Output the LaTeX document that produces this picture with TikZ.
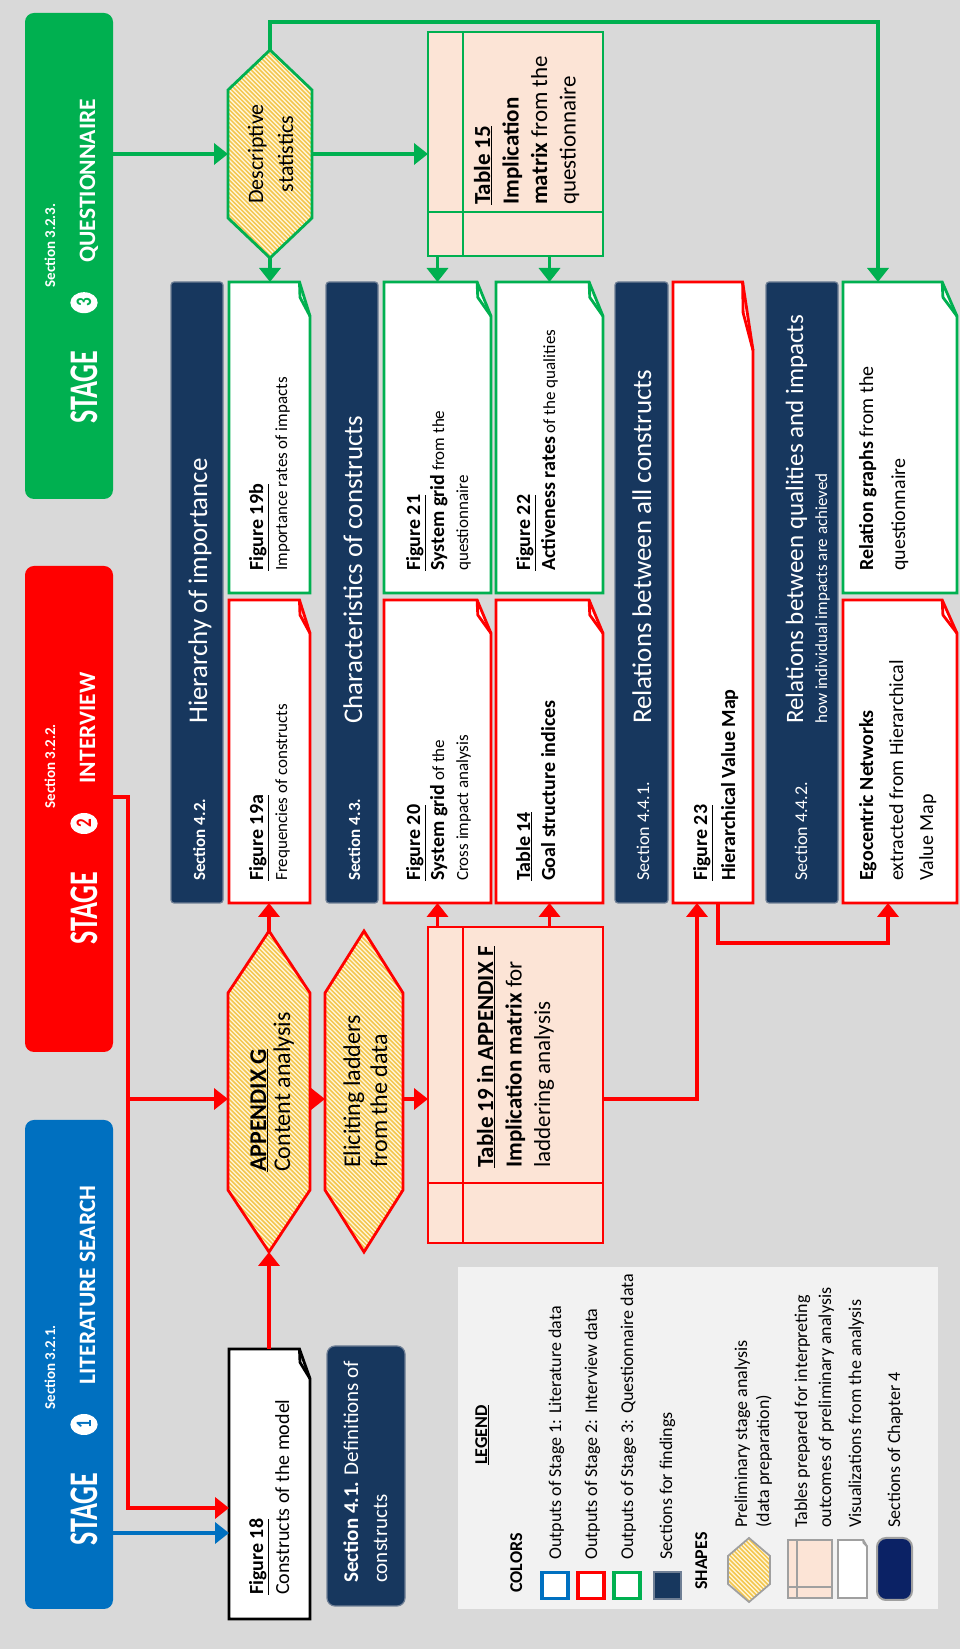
\documentclass[tikz,border=0pt]{standalone}
\usepackage{fontspec}
\setmainfont{Carlito}
\usetikzlibrary{arrows.meta,calc}

\definecolor{bg}{HTML}{D9D9D9}
\definecolor{sgreen}{HTML}{00B050}
\definecolor{sred}{HTML}{FF0000}
\definecolor{sblue}{HTML}{0070C0}
\definecolor{navy}{HTML}{17375E}
\definecolor{navyb}{HTML}{6F7F95}
\definecolor{darknavy}{HTML}{0B2265}
\definecolor{peach}{HTML}{FCE4D6}
\definecolor{hexbg}{HTML}{FFF6DA}
\definecolor{hexln}{HTML}{F3C64E}
\definecolor{legbg}{HTML}{F2F2F2}
\definecolor{legline}{HTML}{A0A0A0}

\newcommand\fsz[2]{\fontsize{#1}{#2}\selectfont}
\newcommand\lstack[1]{\vtop{\halign{##\hfil\cr#1\crcr}}}
\newcommand\cstack[1]{\vtop{\halign{\hfil##\hfil\cr#1\crcr}}}

\tikzset{
  shapelw/.style={line width=2.8pt},
  link/.style={line width=3.6pt},
  tip/.style={-{Triangle[width=21pt,length=14pt]}},
  stagebox/.style={rounded corners=9pt, inner sep=0pt, outer sep=0pt},
  band/.style={fill=navy, draw=navyb, line width=1.2pt, rounded corners=3pt, inner sep=0pt, outer sep=0pt},
  stagew/.style={anchor=base west, inner sep=0pt, text=white, font=\fsz{28}{28}\bfseries, yscale=1.45},
  stagenum/.style={circle, fill=white, inner sep=0pt, minimum size=21pt, font=\fsz{17}{17}\bfseries, yscale=1.3},
  stagesec/.style={anchor=base west, inner sep=0pt, text=white, font=\fsz{15}{15}\bfseries},
  stagettl/.style={anchor=base west, inner sep=0pt, text=white, font=\fsz{23.5}{23.5}\bfseries},
  txt/.style={anchor=base west, inner sep=0pt},
  ctxt/.style={anchor=base, inner sep=0pt},
}

% document shape with a folded lower right corner: name, colour, x1, y1, x2, y2
\newcommand\docbox[6]{%
  \node[inner sep=0pt,outer sep=0pt,minimum width={(#5-#3)*1pt},minimum height={(#6-#4)*1pt}] (#1) at ({(#3+#5)/2},{-(#4+#6)/2}) {};
  \pgfmathsetmacro\fw{0.11*(#5-#3)}%
  \pgfmathsetmacro\fh{0.13*(#6-#4)}%
  \filldraw[shapelw,fill=white,draw=#2,line join=miter] (#3,-#4) -- (#5,-#4) -- (#5,{\fh-#6}) -- ({#5-\fw},-#6) -- (#3,-#6) -- cycle;
  \draw[shapelw,draw=#2,line join=round] (#5,{\fh-#6}) -- ({#5-0.45*\fw},{0.95*\fh-#6}) -- ({#5-\fw},-#6);
}

% hatched hexagon: name, colour, x1, y1, x2, y2, tip length
\newcommand\hexbox[7]{%
  \node[inner sep=0pt,outer sep=0pt,minimum width={(#5-#3)*1pt},minimum height={(#6-#4)*1pt}] (#1) at ({(#3+#5)/2},{-(#4+#6)/2}) {};
  \pgfmathsetmacro\hm{-(#4+#6)/2}%
  \pgfmathsetmacro\hh{#6-#4}%
  \pgfmathtruncatemacro\hn{(#5-#3+#6-#4)/4.4+2}%
  \begin{scope}
    \clip (#3,\hm) -- ({#3+#7},-#4) -- ({#5-#7},-#4) -- (#5,\hm) -- ({#5-#7},-#6) -- ({#3+#7},-#6) -- cycle;
    \fill[hexbg] (#3,-#4) rectangle (#5,-#6);
    \foreach \k in {0,...,\hn} \draw[hexln,line width=1.5pt] ({#3-\hh+\k*4.4},-#6) -- ++(\hh,\hh);
  \end{scope}
  \draw[shapelw,draw=#2,line join=miter] (#3,\hm) -- ({#3+#7},-#4) -- ({#5-#7},-#4) -- (#5,\hm) -- ({#5-#7},-#6) -- ({#3+#7},-#6) -- cycle;
}

% table shape: name, colour, x1, y1, x2, y2, header line y, column line x
\newcommand\tablebox[8]{%
  \node[inner sep=0pt,outer sep=0pt,minimum width={(#5-#3)*1pt},minimum height={(#6-#4)*1pt}] (#1) at ({(#3+#5)/2},{-(#4+#6)/2}) {};
  \filldraw[shapelw,fill=peach,draw=#2] (#3,-#4) rectangle (#5,-#6);
  \draw[shapelw,draw=#2] (#3,-#7) -- (#5,-#7) (#8,-#4) -- (#8,-#6);
}

\begin{document}
\begin{tikzpicture}[x=1pt,y=1pt]
\useasboundingbox (0,0) rectangle (960,1649);
\fill[bg] (0,0) rectangle (960,1649);

\begin{scope}[rotate=90, transform shape]

% ---------- stage headers ----------
\node[stagebox, fill=sblue, minimum width=489pt, minimum height=88pt] (stage1) at (284.5,-69) {};
\node[stagebox, fill=sred, minimum width=486pt, minimum height=88pt] (stage2) at (840,-69) {};
\node[stagebox, fill=sgreen, minimum width=486pt, minimum height=88pt] (stage3) at (1393,-69) {};

\node[stagew] (s1w) at (103.5,-97) {STAGE};
\node[stagenum, text=sblue] (s1n) at (224.5,-84) {1};
\node[stagesec] (s1s) at (239.5,-55) {Section 3.2.1.};
\node[stagettl] (s1t) at (264.5,-95) {LITERATURE SEARCH};

\node[stagew] (s2w) at (704.5,-97) {STAGE};
\node[stagenum, text=sred] (s2n) at (825.5,-84) {2};
\node[stagesec] (s2s) at (840.5,-55) {Section 3.2.2.};
\node[stagettl] (s2t) at (865.5,-95) {INTERVIEW};

\node[stagew] (s3w) at (1225.3,-97) {STAGE};
\node[stagenum, text=sgreen] (s3n) at (1346.3,-84) {3};
\node[stagesec] (s3s) at (1361.3,-55) {Section 3.2.3.};
\node[stagettl] (s3t) at (1386.3,-95) {QUESTIONNAIRE};

% ---------- sections of chapter 4 ----------
\node[band, minimum width=621pt, minimum height=52pt] (sec42) at (1056.5,-197) {};
\node[band, minimum width=621pt, minimum height=52pt] (sec43) at (1056.5,-352) {};
\node[band, minimum width=621pt, minimum height=53pt] (sec441) at (1056.5,-641.5) {};
\node[band, minimum width=621pt, minimum height=72pt] (sec442) at (1056.5,-802) {};
\node[band, rounded corners=8pt, minimum width=260pt, minimum height=78pt] (sec41) at (173,-366) {};

\node[txt, text=white, font=\fsz{17}{17}\bfseries] (l42a) at (768,-205) {Section 4.2.};
\node[txt, text=white, font=\fsz{27}{27}] (l42b) at (925,-207) {Hierarchy of importance};
\node[txt, text=white, font=\fsz{17}{17}\bfseries] (l43a) at (768,-360) {Section 4.3.};
\node[txt, text=white, font=\fsz{27}{27}] (l43b) at (925,-362) {Characteristics of constructs};
\node[txt, text=white, font=\fsz{18}{18}] (l441a) at (768,-649) {Section 4.4.1.};
\node[txt, text=white, font=\fsz{27}{27}] (l441b) at (925,-651) {Relations between all constructs};
\node[txt, text=white, font=\fsz{18}{18}] (l442a) at (768,-807) {Section 4.4.2.};
\node[txt, text=white, font=\fsz{25}{25}] (l442b) at (925,-803) {Relations between qualities and impacts};
\node[txt, text=white, font=\fsz{17}{17}] (l442c) at (925,-827) {how individual impacts are achieved};
\node[txt, text=white, font=\fsz{21}{29}] (l41) at (66,-358) {\lstack{{\bfseries Section 4.1.} Definitions of\cr constructs}};

% ---------- preliminary analysis ----------
\hexbox{desc}{sgreen}{1391}{228}{1599}{312}{40}
\hexbox{appg}{sred}{397}{228}{718}{310}{62}
\hexbox{elic}{sred}{397}{325}{718}{403}{62}

\node[ctxt, font=\fsz{22}{30}] (tdesc) at (1495,-263) {\cstack{Descriptive\cr statistics}};
\node[txt, font=\fsz{24}{24}] (tappg) at (477,-266) {\lstack{\bfseries\underline{APPENDIX G}\cr Content analysis}};
\node[txt, font=\fsz{24}{27}] (telic) at (481,-360) {\lstack{Eliciting ladders\cr from the data}};

% ---------- tables ----------
\tablebox{t19}{sred}{406}{428}{722}{603}{463}{466}
\tablebox{t15}{sgreen}{1393}{428}{1617}{603}{463}{1437}

\node[txt, font=\fsz{23}{28.5}] (tt19) at (481,-493) {\lstack{\bfseries\underline{Table 19 in APPENDIX F}\cr {\bfseries Implication matrix} for\cr laddering analysis}};
\node[txt, font=\fsz{23}{28.5}] (tt15) at (1444,-490) {\lstack{\bfseries\underline{Table 15}\cr \bfseries Implication\cr {\bfseries matrix} from the\cr questionnaire}};

% ---------- visualisations ----------
\docbox{f18}{black}{30}{229}{300}{310}
\docbox{f19a}{sred}{746}{229}{1049}{310}
\docbox{f19b}{sgreen}{1056}{229}{1367}{310}
\docbox{f20}{sred}{746}{384}{1049}{491}
\docbox{f21}{sgreen}{1056}{384}{1367}{491}
\docbox{t14}{sred}{746}{496}{1049}{603}
\docbox{f22}{sgreen}{1056}{496}{1367}{603}
\docbox{f23}{sred}{746}{673}{1367}{753}
\docbox{ego}{sred}{746}{843}{1049}{957}
\docbox{rel}{sgreen}{1056}{843}{1367}{957}

\node[txt, font=\fsz{20}{26}] (tf18) at (54,-263) {\lstack{\bfseries\underline{Figure 18}\cr Constructs of the model}};
\node[txt, font=\fsz{17}{24}] (tf19a) at (768,-263) {\lstack{\fsz{20}{24}\bfseries\underline{Figure 19a}\cr Frequencies of constructs}};
\node[txt, font=\fsz{17}{24}] (tf19b) at (1078,-263) {\lstack{\fsz{20}{24}\bfseries\underline{Figure 19b}\cr Importance rates of impacts}};
\node[txt, font=\fsz{17}{24}] (tf20) at (768,-420) {\lstack{\fsz{20}{24}\bfseries\underline{Figure 20}\cr {\fsz{20}{24}\bfseries System grid} of the\cr Cross impact analysis}};
\node[txt, font=\fsz{17}{24}] (tf21) at (1078,-420) {\lstack{\fsz{20}{24}\bfseries\underline{Figure 21}\cr {\fsz{20}{24}\bfseries System grid} from the\cr questionnaire}};
\node[txt, font=\fsz{17}{25}] (tt14) at (768,-530) {\lstack{\fsz{20}{24}\bfseries\underline{Table 14}\cr \fsz{20}{24}\bfseries Goal structure indices}};
\node[txt, font=\fsz{17}{25}] (tf22) at (1078,-530) {\lstack{\fsz{20}{24}\bfseries\underline{Figure 22}\cr {\fsz{20}{24}\bfseries Activeness rates} of the qualities}};
\node[txt, font=\fsz{20}{28}] (tf23) at (768,-707) {\lstack{\bfseries\underline{Figure 23}\cr \bfseries Hierarchical Value Map}};
\node[txt, font=\fsz{20}{30}] (tego) at (768,-873) {\lstack{\bfseries Egocentric Networks\cr extracted from Hierarchical\cr Value Map}};
\node[txt, font=\fsz{20}{32}] (trel) at (1078,-873) {\lstack{{\bfseries Relation graphs} from the\cr questionnaire}};

% ---------- connectors ----------
% questionnaire stage
\draw[link,tip,sgreen] (stage3.south -| desc.north) -- (desc.north);
\draw[link,tip,sgreen] (desc.south) -- (desc.south |- t15.north);
\draw[link,tip,sgreen] (desc.west) -- (desc.west -| f19b.east);
\coordinate (gturn) at (1627,-878);
\draw[link,tip,sgreen,line join=miter] (desc.east) -| (gturn) -- (gturn -| rel.east);
\draw[link,tip,sgreen] (t15.west |- f21.east) -- (f21.east);
\draw[link,tip,sgreen] (t15.west |- f22.east) -- (f22.east);

% interview stage
\coordinate (rA) at (852,-128);
\coordinate (rL) at (141,-128);
\coordinate (rM) at (550,-128);
\draw[link,tip,sred,line join=miter] (stage2.south -| rA) -- (rA) -- (rL) -- (rL |- f18.north);
\draw[link,tip,sred] (rM) -- (rM |- appg.north);
\draw[link,tip,sred] (appg.south -| rM) -- (rM |- elic.north);
\draw[link,tip,sred] (elic.south -| rM) -- (rM |- t19.north);
\coordinate (rT) at (550,-697);
\draw[link,tip,sred,line join=miter] (t19.south -| rT) -- (rT) -- (rT -| f23.west);
\draw[link,tip,sred] (appg.east) -- (appg.east -| f19a.west);
\draw[link,tip,sred] (t19.east |- f20.west) -- (f20.west);
\draw[link,tip,sred] (t19.east |- t14.west) -- (t14.west);
\draw[link,tip,sred] (f18.east |- appg.west) -- (appg.west);
\coordinate (rE1) at (706,-718);
\coordinate (rE2) at (706,-888);
\draw[link,tip,sred,line join=miter] (f23.west |- rE1) -- (rE1) -- (rE2) -- (rE2 -| ego.west);

% literature stage
\coordinate (bX) at (116,-120);
\draw[link,tip,sblue] (stage1.south -| bX) -- (bX |- f18.north);

% ---------- legend ----------
\node[fill=legbg, inner sep=0pt, minimum width=342pt, minimum height=480pt] (legend) at (211,-698) {};
\node[txt, font=\fsz{18}{18}\bfseries] (lgt) at (184,-487) {\underline{LEGEND}};
\node[txt, font=\fsz{18}{18}\bfseries] (lgc) at (56,-522) {COLORS};
\node[fill=white, draw=sblue, line width=3.5pt, minimum size=26pt, inner sep=0pt] (sqb) at (63.5,-555) {};
\node[fill=white, draw=sred, line width=3.5pt, minimum size=26pt, inner sep=0pt] (sqr) at (63.5,-591) {};
\node[fill=white, draw=sgreen, line width=3.5pt, minimum size=26pt, inner sep=0pt] (sqg) at (63.5,-627) {};
\node[fill=navy, draw=navyb, line width=2pt, minimum size=27pt, inner sep=0pt] (sqn) at (63.5,-667) {};
\node[txt, font=\fsz{18}{18}] (lg1) at (89,-561) {Outputs of Stage 1: Literature data};
\node[txt, font=\fsz{18}{18}] (lg2) at (89,-597) {Outputs of Stage 2: Interview data};
\node[txt, font=\fsz{18}{18}] (lg3) at (89,-633) {Outputs of Stage 3: Questionnaire data};
\node[txt, font=\fsz{18}{18}] (lg4) at (89,-672) {Sections for findings};
\node[txt, font=\fsz{18}{18}\bfseries] (lgs) at (59,-707) {SHAPES};
\begin{scope}[shapelw/.style={line width=1.8pt}]
  \hexbox{ihex}{legline}{47}{728}{111}{770}{18}
  \tablebox{itab}{legline}{51}{788}{109}{832}{797}{62}
  \docbox{idoc}{legline}{51}{838}{109}{867}
\end{scope}
\node[fill=darknavy, draw=legline, line width=2pt, rounded corners=9pt, minimum width=62pt, minimum height=35pt, inner sep=0pt] (inav) at (80,-894.5) {};
\node[txt, font=\fsz{18}{22}] (lg5) at (121,-747) {\lstack{Preliminary stage analysis\cr (data preparation)}};
\node[txt, font=\fsz{18}{24}] (lg6) at (121,-807) {\lstack{Tables prepared for interpreting\cr outcomes of preliminary analysis}};
\node[txt, font=\fsz{18}{18}] (lg7) at (121,-861) {Visualizations from the analysis};
\node[txt, font=\fsz{18}{18}] (lg8) at (121,-900) {Sections of Chapter 4};

\end{scope}
\end{tikzpicture}
\end{document}
